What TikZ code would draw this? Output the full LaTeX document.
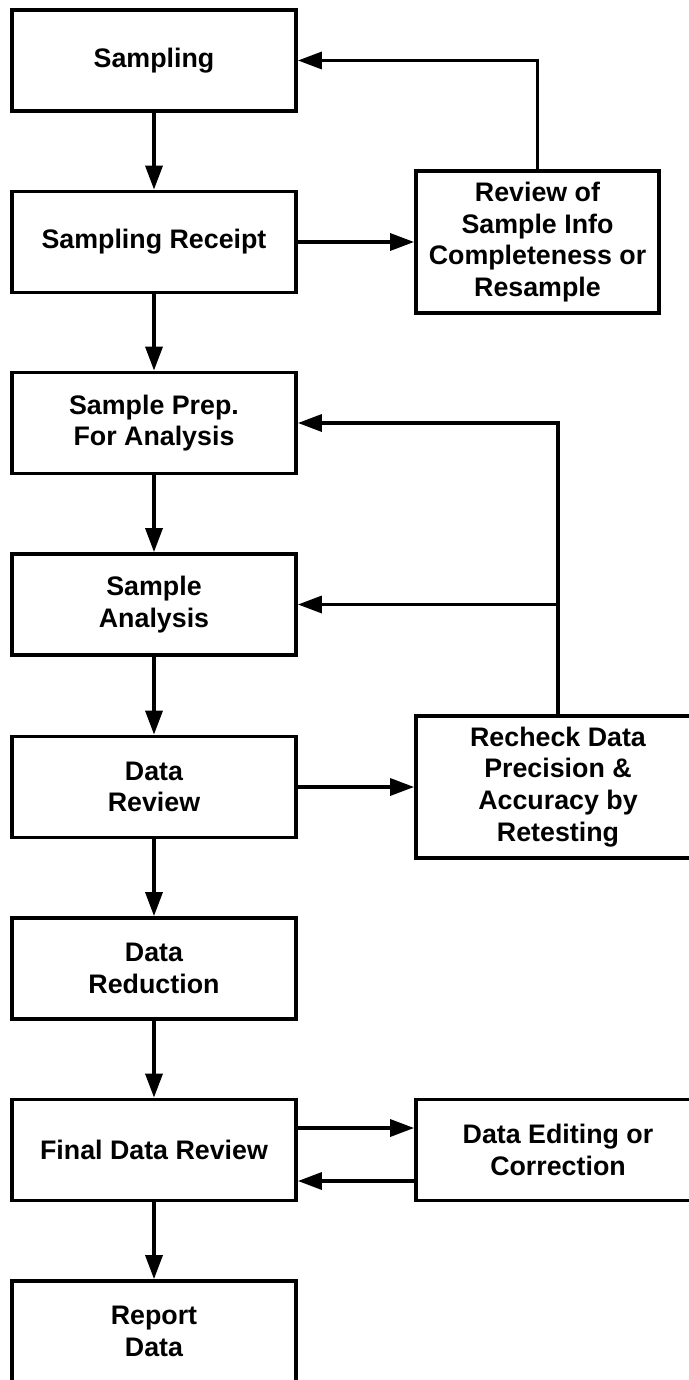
\documentclass[tikz,border=0pt]{standalone}
\usepackage{fontspec}
\setmainfont{Liberation Sans}
\usetikzlibrary{arrows.meta,calc}
\begin{document}
\begin{tikzpicture}[x=0.5pt,y=-0.5pt,
  txt/.style={font=\bfseries\fontsize{13.4}{15.9}\selectfont},
  box/.style={draw,line width=1.9pt,align=center,txt,inner sep=0pt,
    minimum width=142pt,minimum height=50.5pt},
  tallbox/.style={box,minimum height=71pt},
  arr/.style={line width=1.7pt,-{Triangle[length=12pt,width=8.5pt]}}]
\useasboundingbox (0,0) rectangle (689,1380);

% main process column
\node[box] (sampling) at (154,60.5) {Sampling};
\node[box] (receipt)  at (154,242)  {Sampling Receipt};
\node[box] (prep)     at (154,423)  {Sample Prep.\\For Analysis};
\node[box] (analysis) at (154,604.5){Sample\\Analysis};
\node[box] (review)   at (154,787)  {Data\\Review};
\node[box] (reduce)   at (154,968.5){Data\\Reduction};
\node[box] (final)    at (154,1150) {Final Data Review};
\node[box] (report)   at (154,1331.5){Report\\Data};

% side checks
\node[tallbox,minimum width=121.5pt] (info) at (537.5,242)
  {Review of\\Sample Info\\Completeness or\\Resample};
\node[tallbox] (recheck) at (558,787)
  {Recheck Data\\Precision \&\\Accuracy by\\Retesting};
\node[box] (edit) at (558,1150) {Data Editing or\\Correction};

% forward flow
\draw[arr] (sampling) -- (receipt);
\draw[arr] (receipt)  -- (prep);
\draw[arr] (prep)     -- (analysis);
\draw[arr] (analysis) -- (review);
\draw[arr] (review)   -- (reduce);
\draw[arr] (reduce)   -- (final);
\draw[arr] (final)    -- (report);

% checks and loops
\draw[arr] (receipt) -- (info);
\draw[arr] (info.north) |- (sampling.east);
\draw[arr] (review) -- (recheck);
\draw[arr] (recheck.north) |- (prep.east);
\coordinate (branch) at (recheck.north |- analysis.east);
\draw[arr] (branch) -- (analysis.east);
\draw[arr] ($(final.east)+(0,-22)$) -- ($(edit.west)+(0,-22)$);
\draw[arr] ($(edit.west)+(0,31)$) -- ($(final.east)+(0,31)$);
\end{tikzpicture}
\end{document}
